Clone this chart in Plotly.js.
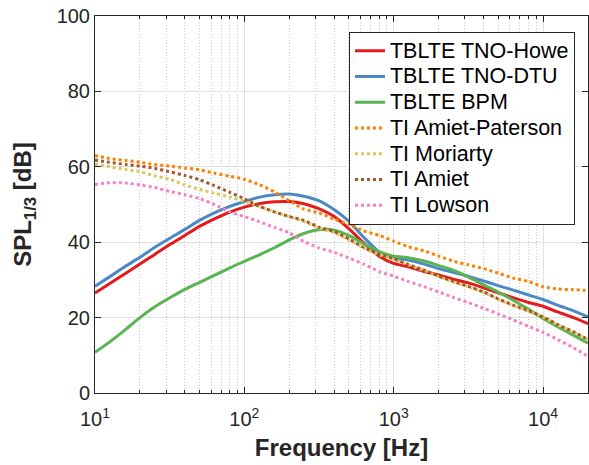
<!DOCTYPE html>
<html>
<head>
<meta charset="utf-8">
<script src="https://cdn.plot.ly/plotly-3.0.1.min.js"></script>
<style>html,body{margin:0;padding:0;background:#fff;}#chart{width:589px;height:465px;}</style>
</head>
<body>
<div id="chart"></div>
<script>
const freq = [10,12.5,16,20,25,31.5,40,50,63,80,100,125,160,200,250,315,400,500,630,800,1000,1250,1600,2000,2500,3150,4000,5000,6300,8000,10000,12500,16000,20000];

const tnoHowe = [26.5,29.0,31.7,34.2,36.7,39.3,41.8,44.2,46.2,48.0,49.3,50.2,50.7,50.8,50.2,48.9,46.8,43.6,39.8,36.3,34.4,33.5,32.2,31.3,30.2,29.2,27.9,26.6,25.3,24.0,23.0,21.5,20.0,18.4];
const tnoDtu = [28.3,30.8,33.6,36.0,38.6,41.0,43.4,45.8,47.8,49.5,50.8,51.9,52.6,52.8,52.2,51.0,48.6,45.6,41.3,37.4,35.9,35.3,34.2,33.0,32.0,31.0,29.7,28.5,27.3,26.0,24.8,23.3,21.8,20.2];
const bpm = [10.8,13.5,16.8,20.0,22.8,25.2,27.5,29.3,31.2,33.2,34.9,36.6,38.6,40.6,42.3,43.3,43.2,41.8,39.6,37.5,36.3,35.9,35.0,33.8,32.6,30.8,28.7,26.8,24.6,22.2,19.8,17.6,15.3,13.2];
const amietPaterson = [63.0,62.2,61.7,61.2,60.6,60.2,59.7,59.2,58.3,57.5,56.7,55.3,53.3,51.0,48.8,47.8,46.1,44.8,43.0,41.8,40.3,38.8,37.7,36.3,35.0,34.0,33.0,31.8,30.5,29.6,28.2,27.6,27.4,27.2];
const moriarty = [60.7,60.0,59.3,58.7,57.6,56.7,55.2,54.0,53.0,52.0,50.8,49.6,48.0,46.8,45.5,43.8,42.5,40.7,38.5,36.7,35.5,34.0,32.5,30.9,29.5,28.2,26.7,24.9,23.2,21.7,20.1,18.1,16.1,14.1];
const amiet = [61.8,61.2,60.6,60.2,59.6,58.7,57.7,56.6,55.0,53.2,51.5,49.6,48.0,46.8,45.8,44.0,42.8,40.9,38.6,36.8,35.6,34.1,32.6,31.0,29.6,28.3,26.8,25.0,23.3,21.8,20.2,18.2,16.2,14.2];
const lowson = [55.3,55.8,55.7,55.2,54.5,53.5,52.6,51.6,50.0,48.0,46.8,45.5,43.9,42.5,40.2,38.5,37.3,35.8,34.2,32.2,31.0,29.6,28.2,26.8,25.4,24.0,22.5,21.0,19.4,17.7,16.1,14.2,12.0,9.7];

const seriesNames = ['TBLTE TNO-Howe','TBLTE TNO-DTU','TBLTE BPM','TI Amiet-Paterson','TI Moriarty','TI Amiet','TI Lowson'];
const seriesData = [tnoHowe, tnoDtu, bpm, amietPaterson, moriarty, amiet, lowson];
const seriesColors = ['#e41a1c','#4a89c6','#59b452','#ff7f00','#d9c65c','#a65628','#f781bf'];
const seriesDash = ['solid','solid','solid','dot','dot','dot','dot'];

const xTickVals = [10,100,1000,10000];
const xTickText = ['10<sup>1</sup>','10<sup>2</sup>','10<sup>3</sup>','10<sup>4</sup>'];
const xMinorVals = [20,30,40,50,60,70,80,90,200,300,400,500,600,700,800,900,2000,3000,4000,5000,6000,7000,8000,9000,20000];
const yTickVals = [0,20,40,60,80,100];

const traces = seriesNames.map((n,i)=>({
  x: freq, y: seriesData[i], name: '<span style="font-size:21.5px">' + n + '</span>', type:'scatter', mode:'lines',
  line:{color:seriesColors[i], width:3, dash:seriesDash[i], shape:'spline', smoothing:0.6}
}));

const axisCol = '#262626';
const layout = {
  width:589, height:465,
  margin:{l:95, r:1, t:16, b:72},
  paper_bgcolor:'#fff', plot_bgcolor:'#fff',
  font:{family:'Liberation Sans, Arial, sans-serif', color:axisCol, size:20},
  showlegend:true,
  legend:{x:0.9736, xanchor:'right', y:0.958, yanchor:'top', bgcolor:'#fff', bordercolor:axisCol, borderwidth:1,
          font:{size:17.5, color:'#000'}, tracegroupgap:0},
  xaxis:{type:'log', range:[1, Math.log10(20000)], tickmode:'array', tickvals:xTickVals, ticktext:xTickText,
         ticks:'inside', ticklen:6, tickcolor:axisCol, showline:true, linecolor:axisCol, linewidth:1, mirror:'ticks',
         showgrid:true, gridcolor:'#e0e0e0', gridwidth:1, zeroline:false, ticklabelstandoff:8,
         tickfont:{size:20, color:axisCol},
         minor:{tickmode:'array', tickvals:xMinorVals, ticks:'inside', ticklen:3, tickcolor:axisCol, showgrid:true, gridcolor:'#c8c8c8', griddash:'1px,2px', gridwidth:1},
         title:{text:'<b>Frequency [Hz]</b>', font:{size:24, color:axisCol}, standoff:10}},
  yaxis:{range:[0,100], tickmode:'array', tickvals:yTickVals,
         ticks:'inside', ticklen:6, tickcolor:axisCol, showline:true, linecolor:axisCol, linewidth:1, mirror:'ticks',
         showgrid:true, gridcolor:'#e0e0e0', gridwidth:1, zeroline:false,
         tickfont:{size:20, color:axisCol},
         title:{text:'<b>SPL<sub>1/3</sub> [dB]</b>', font:{size:24, color:axisCol}, standoff:18}}
};

Plotly.newPlot('chart', traces, layout, {displayModeBar:false, staticPlot:true});
</script>
</body>
</html>
